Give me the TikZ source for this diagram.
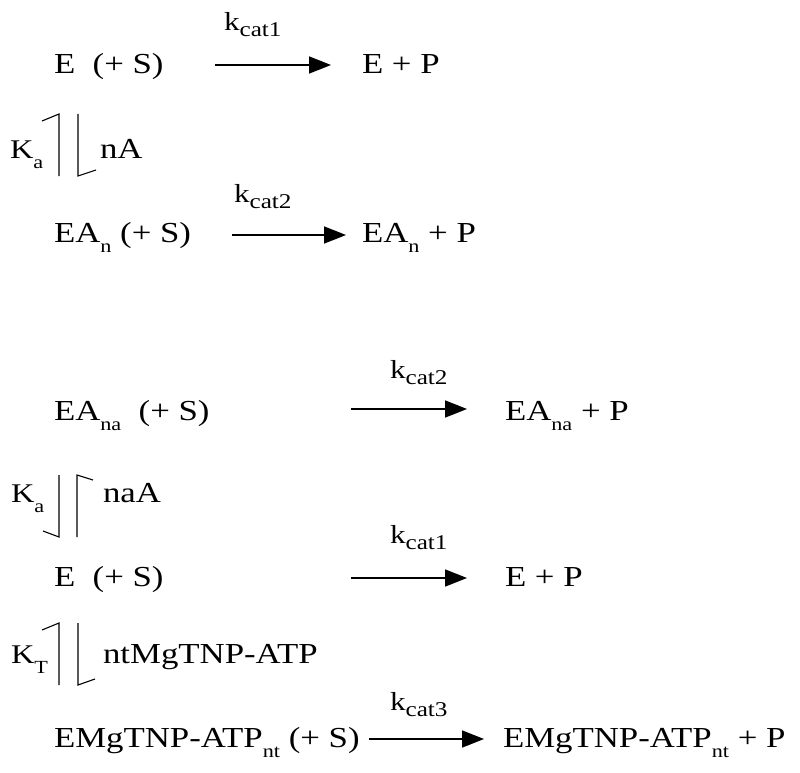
\documentclass[tikz,border=0pt]{standalone}
\usepackage{fontspec}
\setmainfont[FakeStretch=1.2]{Liberation Serif}
\usetikzlibrary{arrows.meta}
\newcommand\msub[1]{\raisebox{-10pt}{\fontsize{18.5}{18.5}\selectfont #1}}
\newcommand\ksub[1]{\raisebox{-6pt}{\fontsize{21}{21}\selectfont #1}}
\tikzset{
  txt/.style={anchor=base west,inner sep=0pt,outer sep=0pt,font=\fontsize{29}{31}\selectfont},
  ktxt/.style={anchor=base west,inner sep=0pt,outer sep=0pt,font=\fontsize{26}{28}\selectfont},
  Ktxt/.style={anchor=base west,inner sep=0pt,outer sep=0pt,font=\fontsize{27}{29}\selectfont},
  rxn/.style={line width=1.7pt,-{Triangle[length=22pt,width=17pt]}},
  harp/.style={line width=1.1pt}
}
\begin{document}
\begin{tikzpicture}[x=1pt,y=-1pt]
\useasboundingbox (0,0) rectangle (800,773);
% row 1
\node[txt] (r1l) at (54,74) {E~~(+ S)};
\node[txt] (r1r) at (362,74) {E + P};
\node[ktxt] (k1) at (224,31) {k\ksub{cat1}};
\coordinate (a1s) at (215,65); \coordinate (a1e) at (331,65);
\draw[rxn] (a1s) -- (a1e);
% equilibrium 1
\node[Ktxt] (K1) at (10,158) {K\msub{a}};
\node[txt] (nA) at (100,158) {nA};
\coordinate (h1a) at (59,176); \coordinate (h1b) at (59,114); \coordinate (h1c) at (42,121);
\coordinate (h1d) at (78,114); \coordinate (h1e) at (78,176); \coordinate (h1f) at (96,170);
\draw[harp] (h1a) -- (h1b) -- (h1c);
\draw[harp] (h1d) -- (h1e) -- (h1f);
% row 2
\node[txt] (r2l) at (54,242) {EA\msub{n} (+ S)};
\node[txt] (r2r) at (362,242) {EA\msub{n} + P};
\node[ktxt] (k2) at (234,202) {k\ksub{cat2}};
\coordinate (a2s) at (232,235); \coordinate (a2e) at (346,235);
\draw[rxn] (a2s) -- (a2e);
% row 3
\node[txt] (r3l) at (54,420) {EA\msub{na}~~(+ S)};
\node[txt] (r3r) at (505,420) {EA\msub{na} + P};
\node[ktxt] (k3) at (390,378) {k\ksub{cat2}};
\coordinate (a3s) at (351,409); \coordinate (a3e) at (467,409);
\draw[rxn] (a3s) -- (a3e);
% equilibrium 2
\node[Ktxt] (K2) at (11,502) {K\msub{a}};
\node[txt] (naA) at (103,502) {naA};
\coordinate (h2a) at (59,475); \coordinate (h2b) at (59,537); \coordinate (h2c) at (43,531);
\coordinate (h2d) at (77,537); \coordinate (h2e) at (77,475); \coordinate (h2f) at (93,480);
\draw[harp] (h2a) -- (h2b) -- (h2c);
\draw[harp] (h2d) -- (h2e) -- (h2f);
% row 4
\node[txt] (r4l) at (54,586) {E~~(+ S)};
\node[txt] (r4r) at (505,586) {E + P};
\node[ktxt] (k4) at (390,543) {k\ksub{cat1}};
\coordinate (a4s) at (351,578); \coordinate (a4e) at (467,578);
\draw[rxn] (a4s) -- (a4e);
% equilibrium 3
\node[Ktxt] (K3) at (11,663) {K\msub{T}};
\node[txt] (ntA) at (103,663) {ntMgTNP-ATP};
\coordinate (h3a) at (59,685); \coordinate (h3b) at (59,623); \coordinate (h3c) at (42,630);
\coordinate (h3d) at (78,623); \coordinate (h3e) at (78,685); \coordinate (h3f) at (95,679);
\draw[harp] (h3a) -- (h3b) -- (h3c);
\draw[harp] (h3d) -- (h3e) -- (h3f);
% row 5
\node[txt] (r5l) at (54,747) {EMgTNP-ATP\msub{nt} (+ S)};
\node[txt] (r5r) at (503,747) {EMgTNP-ATP\msub{nt} + P};
\node[ktxt] (k5) at (390,710) {k\ksub{cat3}};
\coordinate (a5s) at (369,739); \coordinate (a5e) at (484,739);
\draw[rxn] (a5s) -- (a5e);
\end{tikzpicture}
\end{document}
